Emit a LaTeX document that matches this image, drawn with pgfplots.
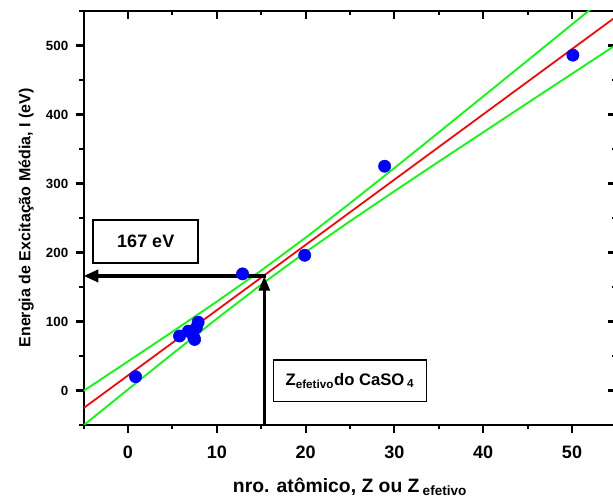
\documentclass[border=0pt]{standalone}
\usepackage{fontspec}
\setmainfont{Liberation Sans}
\usepackage{pgfplots}
\usepackage{pgfplotstable}
\pgfplotsset{compat=1.18}
\usetikzlibrary{arrows.meta}

% measured points (Z, I in eV)
\pgfplotstableread{
x    y
0.85 20
5.8  79
6.8  86
7.4  77
7.5  74
7.7  91
7.9  99
12.9 169
19.9 196
28.9 325
50.1 486
}\points

% linear fit and confidence band
\pgfplotstableread{
x   fit    upper  lower
-5  -25.5  -0.5   -50.5
0   21.8   42.1   1.5
5   69.1   85.1   53.1
10  116.4  128.8  104.0
15  163.7  173.9  153.5
20  211.0  221.5  200.5
25  258.3  271.3  245.3
30  305.6  322.4  288.8
35  352.9  374.1  331.7
40  400.2  426.2  374.2
45  447.5  478.3  416.7
50  494.8  530.6  459.0
55  542.1  582.9  501.3
}\band

\pgfplotsset{
  frame/.style={
    scale only axis,
    width=399.6pt, height=310.5pt,
    xmin=-5, xmax=55, ymin=-50, ymax=550,
    axis line style={line width=1.6pt},
    every tick/.style={line width=1.6pt, black},
    xtick={0,10,...,50}, minor xtick={-5,5,...,55},
    ytick={0,100,...,500}, minor ytick={-50,50,...,550},
    major tick length=6pt, minor tick length=3.2pt,
  }
}

\begin{document}
\begin{tikzpicture}
% mirrored axis on the right with inward ticks
\begin{axis}[
    frame,
    tick align=inside,
    xtick pos=right, ytick pos=right,
    xticklabel=\empty, yticklabel=\empty,
]
\end{axis}
\begin{axis}[
    frame, name=main,
    tick align=outside,
    xtick pos=left, ytick pos=left,
    /pgf/number format/assume math mode=true,
    xticklabel style={font=\bfseries\fontsize{13.5}{16}\selectfont, yshift=-6pt},
    yticklabel style={font=\bfseries\fontsize{10}{12}\selectfont, xshift=-2pt},
    xlabel={nro. atômico, Z ou Z\,\textsubscript{efetivo}},
    ylabel={Energia de Excitação Média, I (eV)},
    xlabel style={font=\bfseries\fontsize{14.5}{17}\selectfont,
        at={(axis description cs:0.5,0)}, anchor=center, yshift=-46.5pt},
    ylabel style={font=\bfseries\fontsize{12}{14}\selectfont,
        at={(axis description cs:0,0.5)}, anchor=center, yshift=43pt},
]
\addplot[only marks, mark=*, mark size=4.6pt, blue, mark options={fill=blue, draw=blue}] table[x=x, y=y] {\points};
\addplot[red, line width=1.3pt] table[x=x, y=fit] {\band};
\addplot[green, line width=1.3pt] table[x=x, y=upper] {\band};
\addplot[green, line width=1.3pt] table[x=x, y=lower] {\band};

% inward ticks along the top edge
\pgfplotsinvokeforeach{0,10,20,30,40,50}{
  \draw[line width=1.6pt] (axis cs:#1,550) -- ++(0,-6pt);
}
\pgfplotsinvokeforeach{-5,5,15,25,35,45,55}{
  \draw[line width=1.6pt] (axis cs:#1,550) -- ++(0,-3.2pt);
}

\draw[line width=2.6pt, -{Triangle[length=11pt, width=9pt]}] (axis cs:15.5,166) -- (axis cs:-5,166);
\draw[line width=2.6pt, -{Triangle[length=11pt, width=8pt]}] (axis cs:15.35,-50) -- (axis cs:15.35,166);

\node[draw, line width=1.2pt, minimum width=78.75pt, minimum height=32pt,
      font=\bfseries\fontsize{13.5}{16}\selectfont] at (axis cs:2,216) {167 eV};
\node[draw, line width=1.2pt, minimum width=115pt, minimum height=31.3pt,
      font=\bfseries\fontsize{12.5}{15}\selectfont] at (axis cs:25,14.2)
      {Z\textsubscript{efetivo}do CaSO\,\textsubscript{4}};
\end{axis}
\pgfresetboundingbox
\useasboundingbox ([xshift=-62.7pt, yshift=-55.5pt]main.south west)
    rectangle ([xshift=-2.55pt, yshift=8.25pt]main.north east);
\end{tikzpicture}
\end{document}
